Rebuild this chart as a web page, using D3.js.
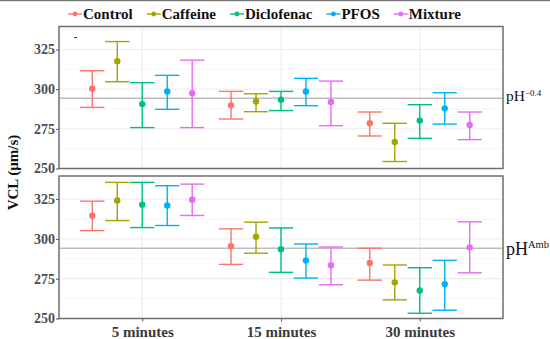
<!DOCTYPE html>
<html>
<head>
<meta charset="UTF-8">
<title>VCL by time and pH</title>
<style>
  body { margin: 0; background: #fff; }
  svg { display: block; }
  .grid-major { stroke: #ebebeb; stroke-width: 1; }
  .grid-minor { stroke: #f2f2f2; stroke-width: 0.8; }
  .frame { fill: none; stroke: #6e6e6e; stroke-width: 1.5; }
  .tick line { stroke: #555; }
  .domain { display: none; }
</style>
</head>
<body>
<div id="chart"></div>
<script src="https://d3js.org/d3.v7.min.js"></script>
<script>
// categories
const times = ["5 minutes", "15 minutes", "30 minutes"];
const treatments = ["Control", "Caffeine", "Diclofenac", "PFOS", "Mixture"];
const colors = ["#F8766D", "#A3A500", "#00BF7D", "#00B0F6", "#E76BF3"];
const yTicks = [250, 275, 300, 325];
const refValue = 294.2;

// pH -0.4 panel: one row per treatment, one value per time
const lowMean  = [[300.3, 289.8, 278.5], [317.6, 292.3, 266.7], [290.6, 293.4, 280.2], [298.6, 298.6, 287.9], [297.5, 291.9, 277.4]];
const lowUpper = [[311.6, 298.6, 285.6], [330.0, 297.1, 278.5], [304.1, 298.6, 290.2], [308.7, 306.8, 297.8], [318.3, 305.1, 285.6]];
const lowLower = [[288.5, 281.2, 270.5], [304.7, 285.8, 254.4], [275.8, 286.5, 269.0], [287.3, 289.6, 278.0], [275.8, 277.0, 268.2]];

// pH ambient panel
const ambMean  = [[314.5, 295.4, 284.9], [324.1, 301.4, 272.7], [321.4, 293.5, 267.6], [321.0, 286.5, 271.6], [324.6, 283.4, 294.7]];
const ambUpper = [[323.7, 306.3, 294.1], [335.5, 310.5, 283.6], [335.5, 306.9, 281.9], [333.4, 296.8, 286.5], [334.4, 294.9, 310.7]];
const ambLower = [[305.2, 284.0, 274.1], [311.5, 291.0, 261.7], [307.1, 279.0, 253.3], [308.4, 275.4, 255.2], [314.7, 271.2, 278.7]];

const width = 550, height = 339;
const left = 59, right = 503;
const serif = "Liberation Serif";

const panels = [
  { label: "pH", sup: "\u22120.4", top: 26.5, bottom: 168.5, mean: lowMean, upper: lowUpper, lower: lowLower,
    xAxis: false, labSize: 15.5, supSize: 9, supDy: -5, labDy: 3.2 },
  { label: "pH", sup: "Amb", top: 176, bottom: 318.5, mean: ambMean, upper: ambUpper, lower: ambLower,
    xAxis: true, labSize: 18, supSize: 10.5, supDy: -7, labDy: 8.2 }
];

const svg = d3.select("#chart").append("svg")
  .attr("width", width).attr("height", height)
  .attr("font-family", serif);

// thin rule at top edge of the figure
svg.append("line").attr("x1", 0).attr("x2", width).attr("y1", 0.5).attr("y2", 0.5)
  .attr("stroke", "#777").attr("stroke-width", 1.5);

const x = d3.scalePoint().domain(times).range([left, right]).padding(0.6);
const step = x.step();
const dodge = 0.18 * step;
const capHalf = 0.0875 * step;

panels.forEach(p => {
  const y = d3.scaleLinear().domain([250, 339.5]).range([p.bottom, p.top]);
  const g = svg.append("g");

  // minor + major grid
  d3.range(262.5, 339.5, 25).forEach(v => {
    g.append("line").attr("class", "grid-minor")
      .attr("x1", left).attr("x2", right).attr("y1", y(v)).attr("y2", y(v));
  });
  yTicks.forEach(v => {
    g.append("line").attr("class", "grid-major")
      .attr("x1", left).attr("x2", right).attr("y1", y(v)).attr("y2", y(v));
  });
  times.forEach(t => {
    g.append("line").attr("class", "grid-major")
      .attr("x1", x(t)).attr("x2", x(t)).attr("y1", p.top).attr("y2", p.bottom);
  });

  // reference line
  g.append("line")
    .attr("x1", left).attr("x2", right).attr("y1", y(refValue)).attr("y2", y(refValue))
    .attr("stroke", "#bdbdbd").attr("stroke-width", 1.5);

  // error bars and points
  treatments.forEach((tr, i) => {
    times.forEach((t, j) => {
      const cx = x(t) + (i - 2) * dodge;
      const eb = g.append("g").attr("stroke", colors[i]).attr("stroke-width", 1.4);
      eb.append("line").attr("x1", cx).attr("x2", cx)
        .attr("y1", y(p.upper[i][j])).attr("y2", y(p.lower[i][j]));
      eb.append("line").attr("x1", cx - capHalf).attr("x2", cx + capHalf)
        .attr("y1", y(p.upper[i][j])).attr("y2", y(p.upper[i][j]));
      eb.append("line").attr("x1", cx - capHalf).attr("x2", cx + capHalf)
        .attr("y1", y(p.lower[i][j])).attr("y2", y(p.lower[i][j]));
      g.append("circle").attr("cx", cx).attr("cy", y(p.mean[i][j]))
        .attr("r", 3.2).attr("fill", colors[i]);
    });
  });

  // frame
  g.append("rect").attr("class", "frame")
    .attr("x", left).attr("y", p.top).attr("width", right - left).attr("height", p.bottom - p.top);

  // y axis
  const ay = svg.append("g").attr("transform", `translate(${left},0)`)
    .call(d3.axisLeft(y).tickValues(yTicks).tickSize(3).tickPadding(1).tickFormat(d3.format("d")));
  ay.attr("font-family", serif).attr("font-size", 14).attr("font-weight", "bold");
  ay.selectAll("text").attr("fill", "#4d4d4d");

  // x axis on lower panel
  if (p.xAxis) {
    const ax = svg.append("g").attr("transform", `translate(0,${p.bottom})`)
      .call(d3.axisBottom(x).tickSize(3).tickPadding(5));
    ax.attr("font-family", serif).attr("font-size", 15).attr("font-weight", "bold");
    ax.selectAll("text").attr("fill", "#3a3a3a");
  }

  // strip label on the right
  const lab = svg.append("text")
    .attr("x", 506).attr("y", (p.top + p.bottom) / 2 + p.labDy)
    .attr("font-family", serif)
    .attr("font-size", p.labSize).attr("fill", "#111");
  lab.append("tspan").text(p.label);
  lab.append("tspan").attr("dy", p.supDy).attr("font-size", p.supSize).text(p.sup);
});

// stray mark in the top panel
svg.append("line").attr("x1", 74).attr("x2", 77).attr("y1", 37.5).attr("y2", 37.5)
  .attr("stroke", "#333").attr("stroke-width", 1);

// y axis title
svg.append("text")
  .attr("transform", `translate(18,${(26.5 + 318.5) / 2}) rotate(-90)`)
  .attr("text-anchor", "middle")
  .attr("font-family", serif)
  .attr("font-size", 15).attr("font-weight", "bold").attr("fill", "#111")
  .text("VCL (\u00b5m/s)");

// legend
const legend = svg.append("g");
let lx = 0;
treatments.forEach((tr, i) => {
  const item = legend.append("g").attr("transform", `translate(${lx},14)`);
  item.append("line").attr("x1", 0).attr("x2", 14).attr("stroke", colors[i]).attr("stroke-width", 1.4);
  item.append("circle").attr("cx", 7).attr("r", 2.4).attr("fill", colors[i]);
  const txt = item.append("text").attr("x", 15).attr("dy", "0.35em")
    .attr("font-family", serif)
    .attr("font-size", 15).attr("font-weight", "bold").attr("fill", "#111").text(tr);
  lx += 15 + txt.node().getComputedTextLength() + 14;
});
legend.attr("transform", `translate(${264.5 - (lx - 14) / 2},0)`);
</script>
</body>
</html>
